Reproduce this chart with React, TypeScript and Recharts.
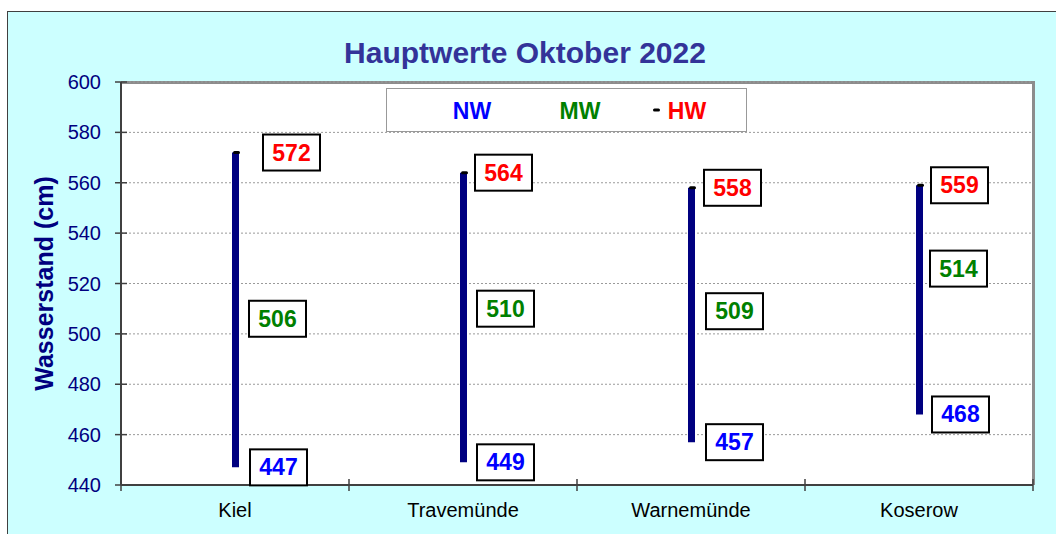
import React from 'react';
import { ComposedChart, Bar, Line, XAxis, YAxis, CartesianGrid, LabelList } from 'recharts';

const categories = ['Kiel', 'Travemünde', 'Warnemünde', 'Koserow'];
const nwValues = [447, 449, 457, 468];
const mwValues = [506, 510, 509, 514];
const hwValues = [572, 564, 558, 559];
const yTicks = [440, 460, 480, 500, 520, 540, 560, 580, 600];

const title = 'Hauptwerte Oktober 2022';
const yLabel = 'Wasserstand (cm)';

// label placement tweaks (style, not data)
const hwLabelDx = [56, 40, 41, 40];
const mwLabelDx = [42, 42, 43, 39];
const mwLabelDy = [0, 0, 0, -30];
const nwLabelDx = [43, 42, 43, 41];

const data = categories.map((name, i) => ({
  name,
  nw: nwValues[i],
  mw: mwValues[i],
  hw: hwValues[i],
  range: [nwValues[i], hwValues[i]],
}));

const W = 1056;
const H = 534;
const PLOT_L = 121;
const PLOT_T = 82;
const PLOT_R = 1033;
const PLOT_B = 485;
const HALF_BAND = (PLOT_R - PLOT_L) / categories.length / 2;
const FONT = 'Arial, "Liberation Sans", sans-serif';

const makeBoxLabel = (color: string, dxArr: number[], dyArr?: number[]) => (props: any) => {
  const { x, y, value, index } = props;
  const cx = x + (dxArr[index] ?? 40);
  const cy = y + (dyArr ? dyArr[index] ?? 0 : 0);
  return (
    <g>
      <rect x={cx - 28} y={cy - 18} width={57} height={36} fill="#fff" stroke="#000" strokeWidth={2} />
      <text x={cx + 0.5} y={cy + 8} textAnchor="middle" fontFamily={FONT} fontWeight="bold" fontSize={23} fill={color}>
        {value}
      </text>
    </g>
  );
};

const HwDot = (props: any) => {
  const { cx, cy } = props;
  if (cx == null || cy == null) return null;
  return <rect x={cx - 2} y={cy - 1.5} width={7} height={3} rx={1.5} fill="#000" />;
};

const YTick = (props: any) => {
  const { y, payload } = props;
  return (
    <g>
      <line x1={PLOT_L - 6} x2={PLOT_L + 6} y1={y} y2={y} stroke="#404040" strokeWidth={1.5} />
      <text x={101} y={y + 7} textAnchor="end" fontFamily={FONT} fontSize={20} fill="#000080">
        {payload.value}
      </text>
    </g>
  );
};

const XTick = (props: any) => {
  const { x, y, payload, index } = props;
  const last = index === categories.length - 1;
  return (
    <g>
      <line x1={x - HALF_BAND} x2={x - HALF_BAND} y1={y - 6} y2={y + 6} stroke="#404040" strokeWidth={1.5} />
      {last && <line x1={x + HALF_BAND} x2={x + HALF_BAND} y1={y - 6} y2={y + 6} stroke="#404040" strokeWidth={1.5} />}
      <text x={x} y={y + 32} textAnchor="middle" fontFamily={FONT} fontSize={20} fill="#000">
        {payload.value}
      </text>
    </g>
  );
};

export default function App() {
  return (
    <div style={{ position: 'absolute', left: 0, top: 0, width: W, height: H, overflow: 'hidden', background: '#fff' }}>
      <div
        style={{
          position: 'absolute',
          left: 7,
          top: 11,
          width: W + 20,
          height: H + 20,
          border: '1px solid #404040',
          background: '#CCFFFF',
        }}
      />
      <div
        style={{
          position: 'absolute',
          left: PLOT_L,
          top: PLOT_T - 1,
          width: PLOT_R - PLOT_L + 2,
          height: PLOT_B - PLOT_T + 1,
          boxSizing: 'border-box',
          background: '#fff',
          borderTop: '3px solid #8c8c8c',
          borderRight: '3px solid #8c8c8c',
        }}
      />
      <div style={{ position: 'absolute', left: 0, top: 0 }}>
        <ComposedChart width={W} height={H} data={data} margin={{ top: PLOT_T, right: W - PLOT_R, left: 0, bottom: 0 }}>
          <CartesianGrid vertical={false} stroke="#9a9a9a" strokeDasharray="2 2" />
          <XAxis
            dataKey="name"
            height={H - PLOT_B}
            axisLine={{ stroke: '#404040', strokeWidth: 2 }}
            tickLine={false}
            tickSize={0}
            tickMargin={0}
            tick={<XTick />}
            interval={0}
          />
          <YAxis
            width={PLOT_L}
            domain={[440, 600]}
            ticks={yTicks}
            allowDataOverflow
            axisLine={{ stroke: '#404040', strokeWidth: 2 }}
            tickLine={false}
            tick={<YTick />}
            interval={0}
          />
          <Bar dataKey="range" fill="#000080" barSize={7} isAnimationActive={false} />
          <Line dataKey="hw" stroke="none" dot={<HwDot />} activeDot={false} isAnimationActive={false}>
            <LabelList dataKey="hw" content={makeBoxLabel('#FF0000', hwLabelDx)} />
          </Line>
          <Line dataKey="mw" stroke="none" dot={false} activeDot={false} isAnimationActive={false}>
            <LabelList dataKey="mw" content={makeBoxLabel('#008000', mwLabelDx, mwLabelDy)} />
          </Line>
          <Line dataKey="nw" stroke="none" dot={false} activeDot={false} isAnimationActive={false}>
            <LabelList dataKey="nw" content={makeBoxLabel('#0000FF', nwLabelDx)} />
          </Line>
        </ComposedChart>
      </div>
      <svg width={W} height={H} style={{ position: 'absolute', left: 0, top: 0, pointerEvents: 'none' }}>
        <text x={525} y={63} textAnchor="middle" fontFamily={FONT} fontWeight="bold" fontSize={30} fill="#333399">
          {title}
        </text>
        <text
          x={0}
          y={0}
          transform={`translate(53, ${(PLOT_T + PLOT_B) / 2}) rotate(-90)`}
          textAnchor="middle"
          fontFamily={FONT}
          fontWeight="bold"
          fontSize={25}
          fill="#000080"
        >
          {yLabel}
        </text>
        <rect x={386.5} y={88.5} width={360} height={43} fill="#fff" stroke="#999" strokeWidth={1} />
        <text x={472} y={118.5} textAnchor="middle" fontFamily={FONT} fontWeight="bold" fontSize={23} fill="#0000FF">NW</text>
        <text x={580} y={118.5} textAnchor="middle" fontFamily={FONT} fontWeight="bold" fontSize={23} fill="#008000">MW</text>
        <rect x={653} y={108.5} width={7} height={3} rx={1.5} fill="#000" />
        <text x={687} y={118.5} textAnchor="middle" fontFamily={FONT} fontWeight="bold" fontSize={23} fill="#FF0000">HW</text>
      </svg>
    </div>
  );
}
